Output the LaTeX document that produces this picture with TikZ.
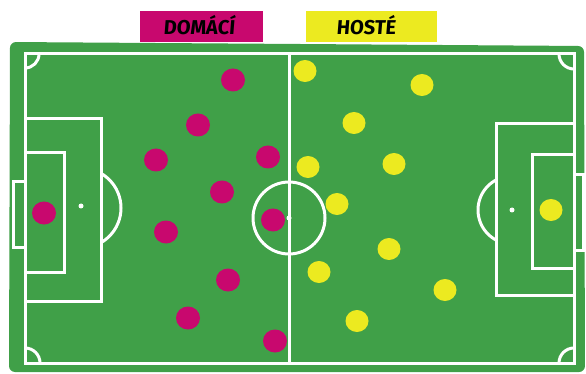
\documentclass[tikz,border=0pt]{standalone}
\usepackage{fontspec}
\setsansfont{Fira Sans}[FakeSlant=0.08]
\definecolor{pitch}{RGB}{64,160,72}
\definecolor{home}{RGB}{200,8,110}
\definecolor{away}{RGB}{236,234,32}
\tikzset{
  line/.style={draw=white, line width=3pt},
  homedot/.style={ellipse, fill=home, minimum width=24pt, minimum height=23pt, inner sep=0pt},
  awaydot/.style={ellipse, fill=away, minimum width=23pt, minimum height=22pt, inner sep=0pt},
  spot/.style={circle, fill=white, minimum size=5pt, inner sep=0pt},
  tag/.style={minimum height=31pt, inner sep=0pt, font=\sffamily\bfseries\fontsize{20}{20}\selectfont, text=black}
}
\usetikzlibrary{shapes.geometric}
\begin{document}
\begin{tikzpicture}[x=1pt,y=-1pt]
\useasboundingbox (0,0) rectangle (586,374);
\fill[white] (0,0) rectangle (586,374);
% labels
\node[tag, fill=home, minimum width=123pt] (lhome) at (201.5,26.5) {};
\node[tag, fill=away, minimum width=131pt] (laway) at (371.5,26.5) {};
\node[tag] (thome) at (199,25) {DOMÁCÍ};
\node[tag] (taway) at (366,25) {HOSTÉ};
% field
\fill[pitch, rounded corners=6pt] (10,42) -- (300,44) -- (584,46) -- (585,372) -- (9,372) -- cycle;
% outer lines
\draw[line] (25,54) rectangle (574,363);
\draw[line] (289,54) -- (289,363);
% centre
\draw[line] (289,218) circle[radius=36pt];
\node[spot] (cspot) at (289,218) {};
% left side
\draw[line] (25,119) rectangle (101,301);
\draw[line] (25,153) rectangle (64,272);
\draw[line] (25,182) -- (13,182) -- (13,247) -- (25,247);
\node[spot] (lspot) at (81,206) {};
\begin{scope}
  \clip (102,0) rectangle (300,374);
  \draw[line] (81,208) circle[radius=40pt];
\end{scope}
% right side
\draw[line] (496,124) rectangle (574,295);
\draw[line] (532,155) rectangle (574,268);
\draw[line] (574,175) -- (583,175) -- (583,250) -- (574,250);
\node[spot] (rspot) at (512,210) {};
\begin{scope}
  \clip (0,0) rectangle (495,374);
  \draw[line] (512,210) circle[radius=34pt];
\end{scope}
% corner arcs
\begin{scope}
  \clip (25,54) rectangle (574,363);
  \draw[line] (25,54) circle[radius=14pt];
  \draw[line] (574,54) circle[radius=15pt];
  \draw[line] (25,363) circle[radius=15pt];
  \draw[line] (574,363) circle[radius=15pt];
\end{scope}
% home players
\node[homedot] (h1) at (44,213) {};
\node[homedot] (h2) at (233,80) {};
\node[homedot] (h3) at (198,125) {};
\node[homedot] (h4) at (156,160) {};
\node[homedot] (h5) at (268,157) {};
\node[homedot] (h6) at (222,192) {};
\node[homedot] (h7) at (273,220) {};
\node[homedot] (h8) at (166,232) {};
\node[homedot] (h9) at (228,280) {};
\node[homedot] (h10) at (188,318) {};
\node[homedot] (h11) at (275,341) {};
% away players
\node[awaydot] (a1) at (551,210) {};
\node[awaydot] (a2) at (305,71) {};
\node[awaydot] (a3) at (422,85) {};
\node[awaydot] (a4) at (354,123) {};
\node[awaydot] (a5) at (308,167) {};
\node[awaydot] (a6) at (394,164) {};
\node[awaydot] (a7) at (337,204) {};
\node[awaydot] (a8) at (389,249) {};
\node[awaydot] (a9) at (319,272) {};
\node[awaydot] (a10) at (445,290) {};
\node[awaydot] (a11) at (357,321) {};
\end{tikzpicture}
\end{document}
